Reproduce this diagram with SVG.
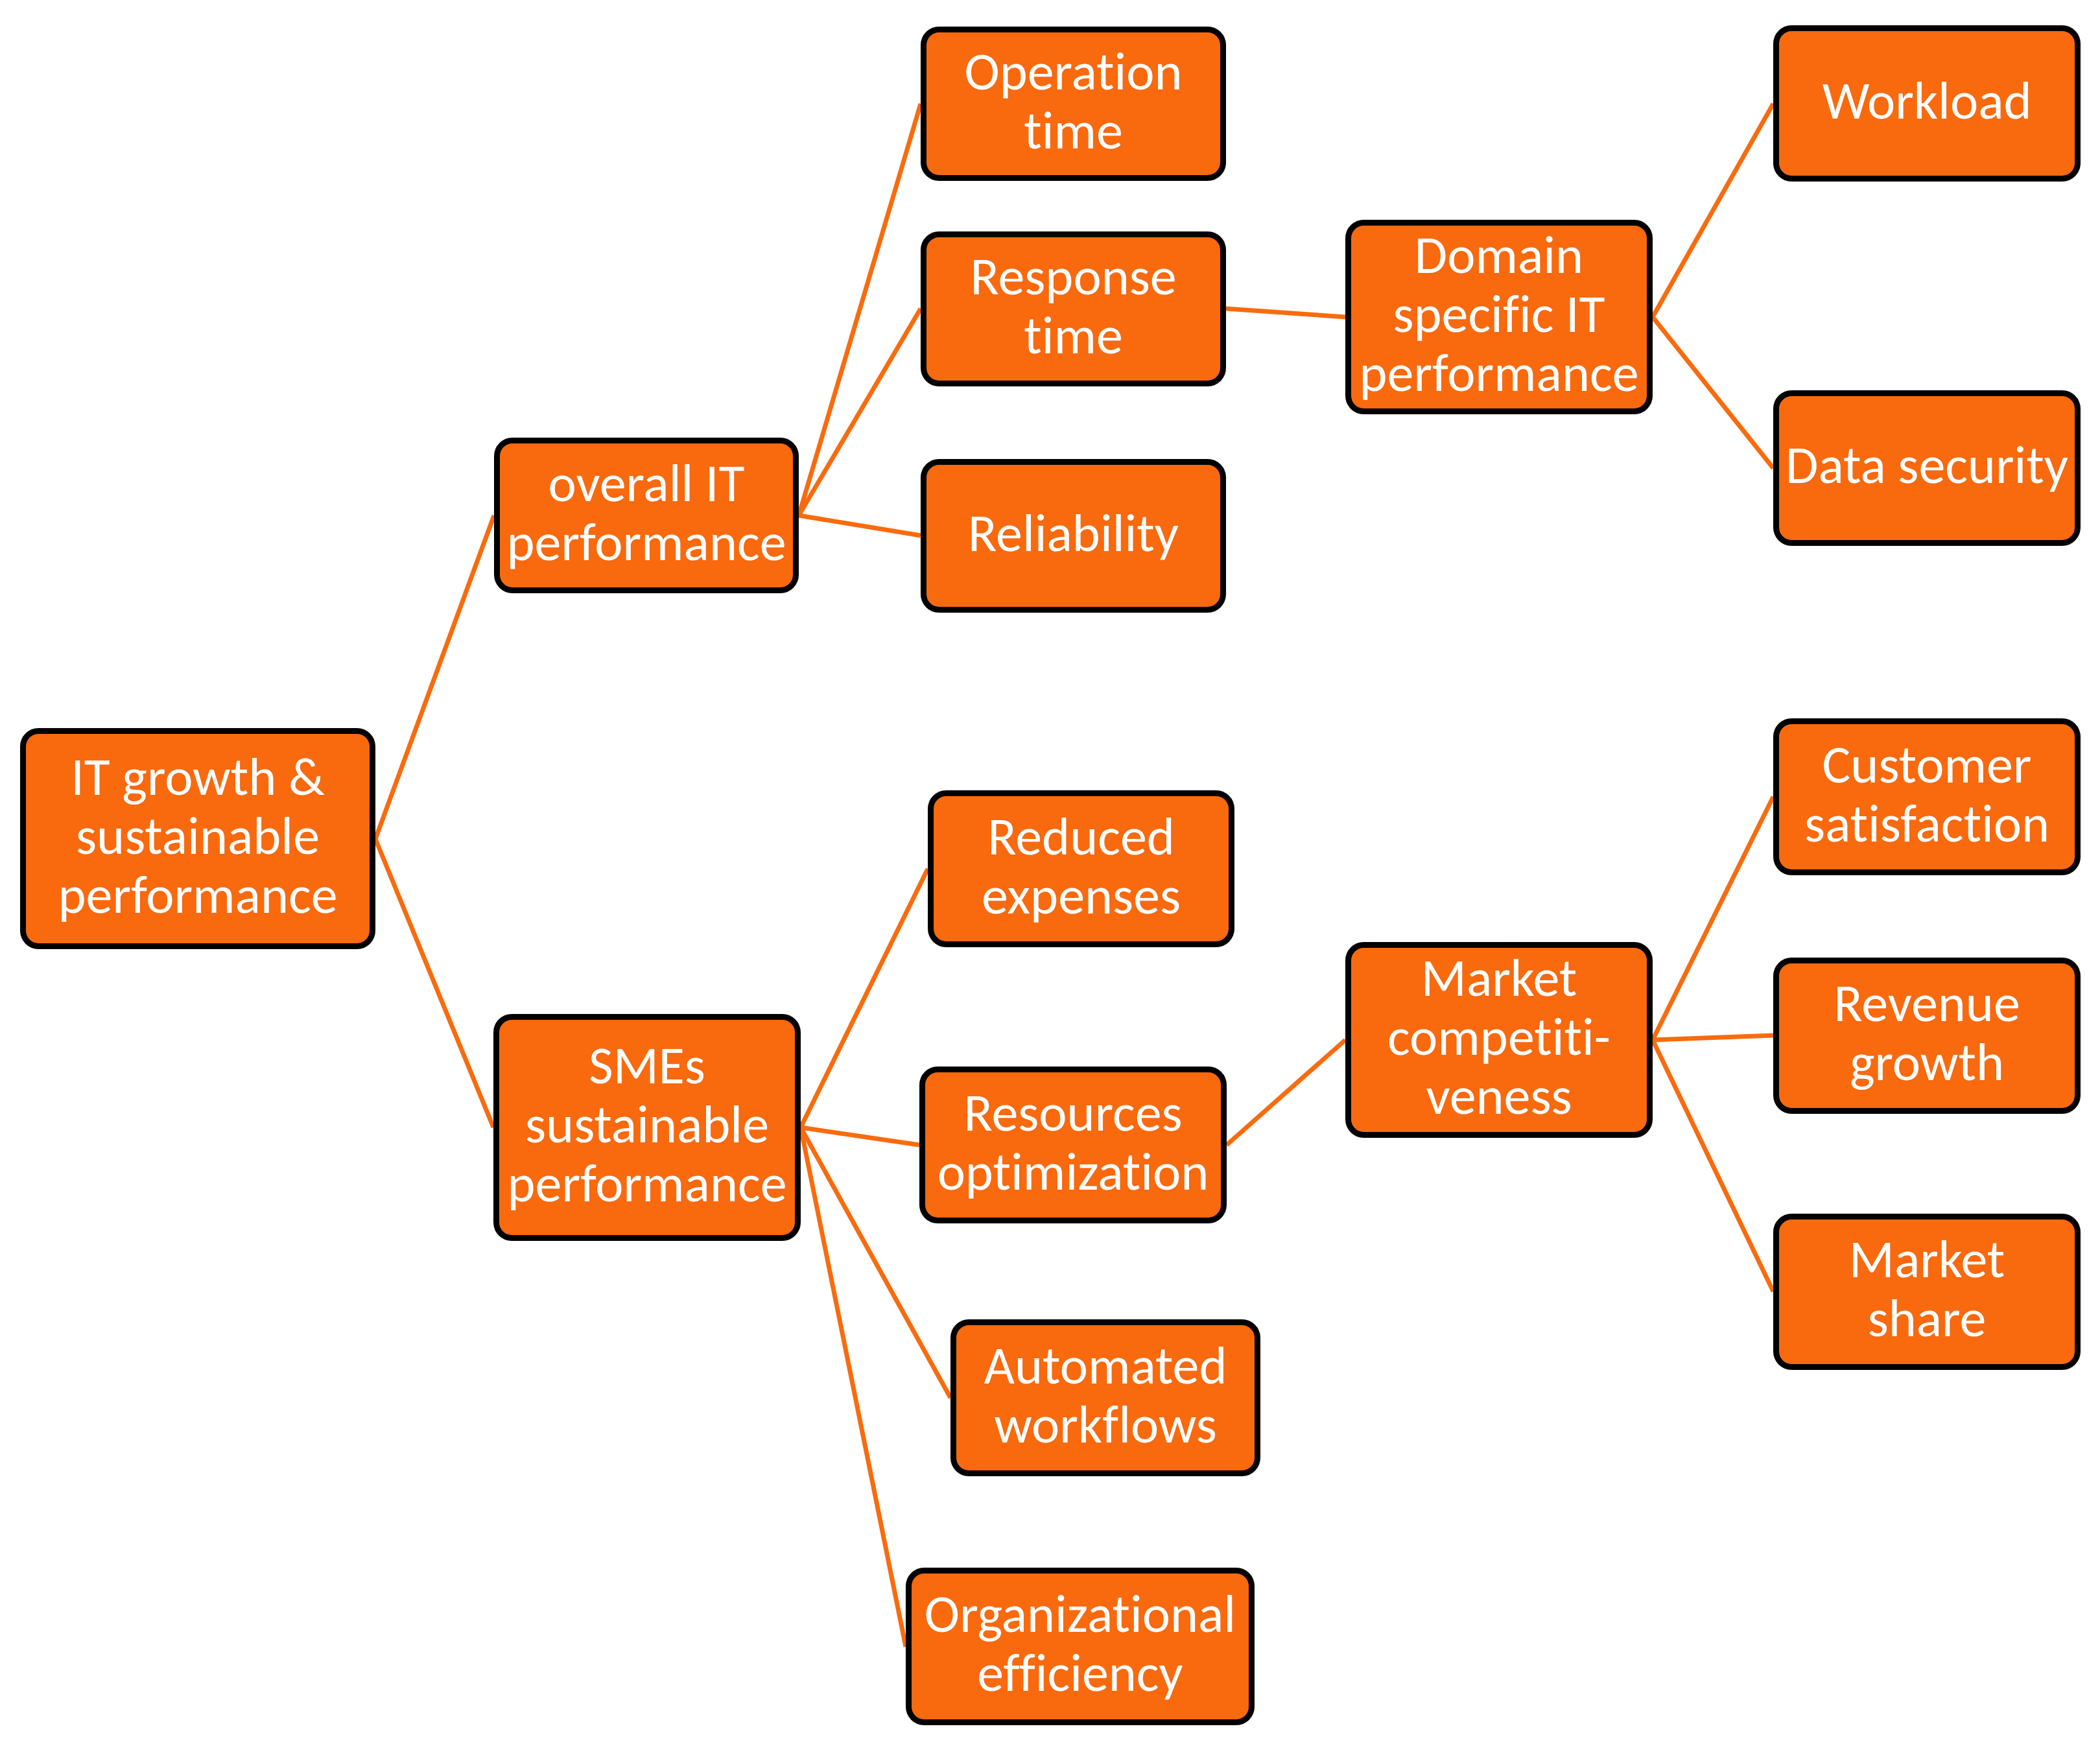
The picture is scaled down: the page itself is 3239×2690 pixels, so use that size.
<svg xmlns="http://www.w3.org/2000/svg" width="3239" height="2690" viewBox="0 0 3239 2690">
<style>
.box{fill:#F9690E;stroke:#000;stroke-width:9}
.lbl{fill:#fff;font-family:Carlito,Calibri,Lato,"Liberation Sans",sans-serif;font-size:82px;text-anchor:middle;font-variant-ligatures:none}
.con line{stroke:#F96B0D;stroke-width:7;fill:none}
</style>
<rect width="3239" height="2690" fill="#fff"/>
<g id="connectors" class="con">
<line x1="579" y1="1294" x2="762" y2="795"/>
<line x1="579" y1="1294" x2="761" y2="1739"/>
<line x1="1232" y1="795" x2="1420" y2="160"/>
<line x1="1232" y1="795" x2="1420" y2="476"/>
<line x1="1232" y1="795" x2="1420" y2="826"/>
<line x1="1891" y1="476" x2="2075" y2="489"/>
<line x1="2549" y1="489" x2="2735" y2="160"/>
<line x1="2549" y1="489" x2="2735" y2="722"/>
<line x1="1235" y1="1739" x2="1431" y2="1340"/>
<line x1="1235" y1="1739" x2="1418" y2="1766"/>
<line x1="1235" y1="1739" x2="1466" y2="2156"/>
<line x1="1235" y1="1739" x2="1397" y2="2540"/>
<line x1="1892" y1="1766" x2="2075" y2="1604"/>
<line x1="2549" y1="1604" x2="2735" y2="1229"/>
<line x1="2549" y1="1604" x2="2735" y2="1597"/>
<line x1="2549" y1="1604" x2="2735" y2="1992"/>
</g>
<g id="root"><rect class="box" x="35.5" y="1127.5" width="539" height="332" rx="24"/>
<text class="lbl"><tspan x="305" y="1226">IT growth &amp;</tspan><tspan x="305" y="1317">sustainable</tspan><tspan x="305" y="1408">performance</tspan></text></g>
<g id="overall"><rect class="box" x="766.5" y="679.5" width="461" height="231" rx="24"/>
<text class="lbl"><tspan x="997" y="773">overall IT</tspan><tspan x="997" y="864">performance</tspan></text></g>
<g id="smes"><rect class="box" x="765.5" y="1568.5" width="465" height="341" rx="24"/>
<text class="lbl"><tspan x="998" y="1671">SMEs</tspan><tspan x="998" y="1762">sustainable</tspan><tspan x="998" y="1853">performance</tspan></text></g>
<g id="operation"><rect class="box" x="1424.5" y="45.5" width="462" height="229" rx="24"/>
<text class="lbl"><tspan x="1655.5" y="138">Operation</tspan><tspan x="1655.5" y="229">time</tspan></text></g>
<g id="response"><rect class="box" x="1424.5" y="361.5" width="462" height="230" rx="24"/>
<text class="lbl"><tspan x="1655.5" y="454">Response</tspan><tspan x="1655.5" y="545">time</tspan></text></g>
<g id="reliability"><rect class="box" x="1424.5" y="712.5" width="462" height="228" rx="24"/>
<text class="lbl" x="1655.5" y="850">Reliability</text></g>
<g id="domain"><rect class="box" x="2079.5" y="343.5" width="465" height="291" rx="24"/>
<text class="lbl"><tspan x="2312" y="421">Domain</tspan><tspan x="2312" y="512">specific IT</tspan><tspan x="2312" y="603">performance</tspan></text></g>
<g id="workload"><rect class="box" x="2739.5" y="43.5" width="465" height="232" rx="24"/>
<text class="lbl" x="2972" y="183">Workload</text></g>
<g id="datasecurity"><rect class="box" x="2739.5" y="606.5" width="465" height="231" rx="24"/>
<text class="lbl" x="2972" y="745">Data security</text></g>
<g id="reduced"><rect class="box" x="1435.5" y="1223.5" width="464" height="233" rx="24"/>
<text class="lbl"><tspan x="1667.5" y="1318">Reduced</tspan><tspan x="1667.5" y="1409">expenses</tspan></text></g>
<g id="resources"><rect class="box" x="1422.5" y="1649.5" width="465" height="233" rx="24"/>
<text class="lbl"><tspan x="1655" y="1744">Resources</tspan><tspan x="1655" y="1835">optimization</tspan></text></g>
<g id="automated"><rect class="box" x="1470.5" y="2039.5" width="469" height="233" rx="24"/>
<text class="lbl"><tspan x="1705" y="2134">Automated</tspan><tspan x="1705" y="2225">workflows</tspan></text></g>
<g id="organizational"><rect class="box" x="1401.5" y="2422.5" width="529" height="234" rx="24"/>
<text class="lbl"><tspan x="1666" y="2517">Organizational</tspan><tspan x="1666" y="2608">efficiency</tspan></text></g>
<g id="market"><rect class="box" x="2079.5" y="1457.5" width="465" height="293" rx="24"/>
<text class="lbl"><tspan x="2312" y="1536">Market</tspan><tspan x="2312" y="1627">competiti-</tspan><tspan x="2312" y="1718">veness</tspan></text></g>
<g id="customer"><rect class="box" x="2739.5" y="1112.5" width="465" height="233" rx="24"/>
<text class="lbl"><tspan x="2972" y="1207">Customer</tspan><tspan x="2972" y="1298">satisfaction</tspan></text></g>
<g id="revenue"><rect class="box" x="2739.5" y="1481.5" width="465" height="232" rx="24"/>
<text class="lbl"><tspan x="2972" y="1575">Revenue</tspan><tspan x="2972" y="1666">growth</tspan></text></g>
<g id="marketshare"><rect class="box" x="2739.5" y="1876.5" width="465" height="232" rx="24"/>
<text class="lbl"><tspan x="2972" y="1970">Market</tspan><tspan x="2972" y="2061">share</tspan></text></g>
</svg>
